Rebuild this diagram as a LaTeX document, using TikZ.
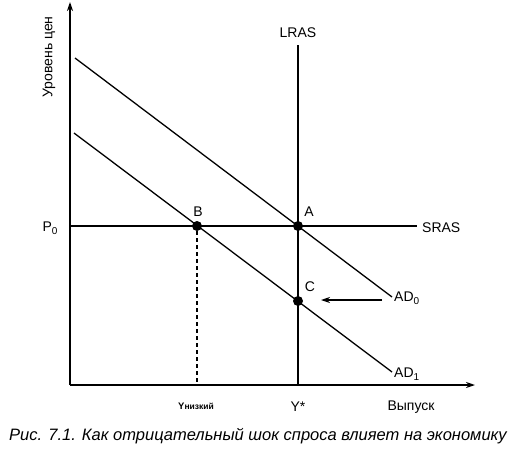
\documentclass[tikz,border=0pt]{standalone}
\usepackage{fontspec}
\setmainfont{Liberation Sans}
\usetikzlibrary{arrows.meta}
\newcommand{\lowsub}[1]{\raisebox{-3pt}{\fontsize{10}{11}\selectfont #1}}
\begin{document}
\begin{tikzpicture}[x=1pt,y=-1pt,
  line/.style={line width=1.3pt},
  axis/.style={line width=1.4pt,-{Stealth[length=9pt,width=6pt]}},
  dot/.style={circle,fill=black,inner sep=0pt,minimum size=10pt},
  lbl/.style={font=\fontsize{14}{16}\selectfont,inner sep=1pt}]
\useasboundingbox (0,0) rectangle (515,450);
% axes
\coordinate (O) at (70,385);
\coordinate (Ytop) at (70,2);
\coordinate (Xend) at (475,385);
\draw[axis] (O) -- (Ytop);
\draw[axis] (O) -- (Xend);
% LRAS
\coordinate (L1) at (298,45);
\coordinate (L2) at (298,385);
\draw[line] (L1) -- (L2);
\node[lbl] (lras) at (298,33) {LRAS};
% SRAS
\coordinate (S1) at (70,226);
\coordinate (S2) at (417,226);
\draw[line] (S1) -- (S2);
\node[lbl,anchor=west] (sras) at (421,228) {SRAS};
% AD0
\coordinate (D0a) at (75,58);
\coordinate (D0b) at (392,297);
\draw[line] (D0a) -- (D0b);
\node[lbl,anchor=west] (ad0) at (393,298) {AD\lowsub{0}};
% AD1
\coordinate (D1a) at (74,133);
\coordinate (D1b) at (392,372);
\draw[line] (D1a) -- (D1b);
\node[lbl,anchor=west] (ad1) at (393,374) {AD\lowsub{1}};
% points
\node[dot] (A) at (298,226) {};
\node[dot] (B) at (197,226) {};
\node[dot] (C) at (298,301) {};
\node[lbl] (la) at (309,212) {A};
\node[lbl] (lb) at (198,212) {B};
\node[lbl] (lc) at (310,287) {C};
% dashed
\coordinate (Bx) at (197,385);
\draw[line width=1.2pt,dash pattern=on 4pt off 3pt] (B) -- (Bx);
% shift arrow
\coordinate (sh1) at (382,300);
\coordinate (sh2) at (321,300);
\draw[line width=1.2pt,-{Stealth[length=9pt,width=6pt]}] (sh1) -- (sh2);
% labels
\node[lbl] (p0) at (50,228) {P\lowsub{0}};
\node[font=\fontsize{9.5}{11}\selectfont\bfseries] (ylow) at (196,406) {Y\fontsize{8.5}{10}\selectfont низкий};
\node[lbl] (ystar) at (298,407) {Y*};
\node[lbl] (vyp) at (411,407) {Выпуск};
\node[lbl,rotate=90] (yl) at (49,57) {Уровень цен};
\node[font=\fontsize{16.5}{18}\selectfont\itshape] (cap) at (258,436) {Рис. 7.1. Как отрицательный шок спроса влияет на экономику};
\end{tikzpicture}
\end{document}
